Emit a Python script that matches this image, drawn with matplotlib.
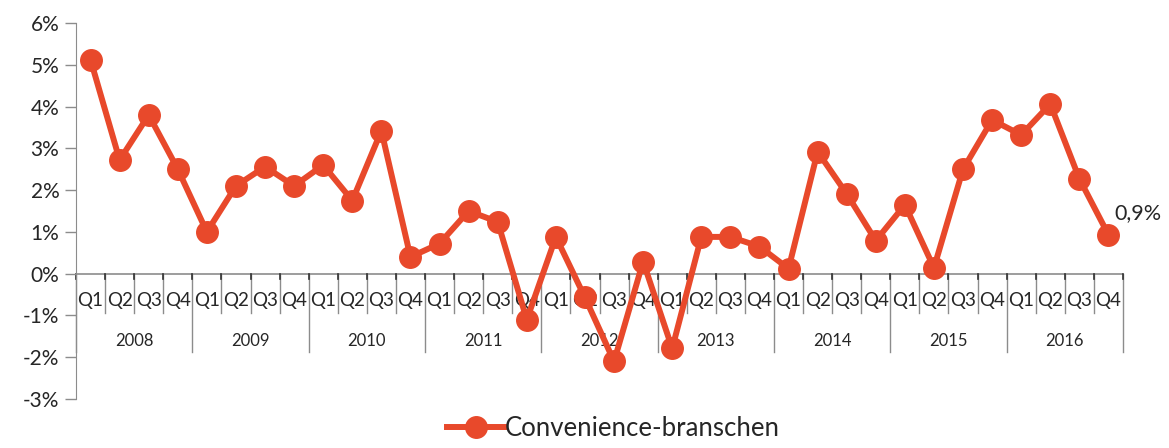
import matplotlib
matplotlib.use("Agg")
import matplotlib.pyplot as plt
import numpy as np

years = ["2008", "2009", "2010", "2011", "2012", "2013", "2014", "2015", "2016"]
quarters = ["Q1", "Q2", "Q3", "Q4"]
values = [5.12, 2.72, 3.80, 2.50,
          1.00, 2.10, 2.56, 2.10,
          2.60, 1.75, 3.42, 0.40,
          0.72, 1.50, 1.24, -1.10,
          0.88, -0.57, -2.10, 0.29,
          -1.79, 0.88, 0.88, 0.65,
          0.12, 2.92, 1.91, 0.79,
          1.65, 0.14, 2.50, 3.68,
          3.32, 4.06, 2.27, 0.93]
series_name = "Convenience-branschen"
end_label = "0,9%"
yticks = [-3, -2, -1, 0, 1, 2, 3, 4, 5, 6]

plt.rcParams['font.family'] = ['Lato', 'DejaVu Sans']
red = "#E8492B"
txt = "#262626"
grid = "#8c8c8c"

fig = plt.figure(figsize=(11.69, 4.48), dpi=100)
ax = fig.add_axes([76/1169, 49/448, (1123-76)/1169, (399-23)/448])

n = len(values)
x = np.arange(n)
ax.plot(x, values, color=red, lw=4.3, marker='o', ms=15.5, label=series_name,
        solid_joinstyle='round', zorder=3, clip_on=False)

ax.set_xlim(-0.5, n - 0.5)
ax.set_ylim(-3, 6)
ax.set_yticks(yticks)
ax.set_yticklabels([f"{v}%" for v in yticks], fontsize=15, color=txt)
ax.tick_params(axis='y', length=8, width=1, color=grid, pad=4)
ax.set_xticks([])
for s in ['top', 'right', 'bottom']:
    ax.spines[s].set_visible(False)
ax.spines['left'].set_color(grid)

# zero line
ax.axhline(0, color=grid, lw=1.2, zorder=1)

# category separators and labels
q_bottom = -0.93
y_bottom = -1.87
for i in range(n + 1):
    xb = i - 0.5
    if i % 4 == 0:
        ax.plot([xb, xb], [0, y_bottom], color=grid, lw=1, clip_on=False, zorder=1)
    else:
        ax.plot([xb, xb], [0, q_bottom], color=grid, lw=1, clip_on=False, zorder=1)
    ax.plot([xb, xb], [0, -0.13], color="#333333", lw=1.2, clip_on=False, zorder=1)
for i in range(n):
    ax.text(i, -0.64, quarters[i % 4], ha='center', va='center', fontsize=13.5, color=txt, zorder=2)
for k, yr in enumerate(years):
    ax.text(4 * k + 1.5, -1.62, yr, ha='center', va='center', fontsize=12, color=txt, zorder=2)

ax.text(n - 1 + 0.2, 1.45, end_label, ha='left', va='center', fontsize=15.5, color=txt)

leg = fig.legend(loc='lower center', bbox_to_anchor=(0.525, -0.035), frameon=False,
                 fontsize=18.5, handlelength=2.2, handletextpad=0.05)
for t in leg.get_texts():
    t.set_color(txt)

fig.savefig("out.png", dpi=100)
